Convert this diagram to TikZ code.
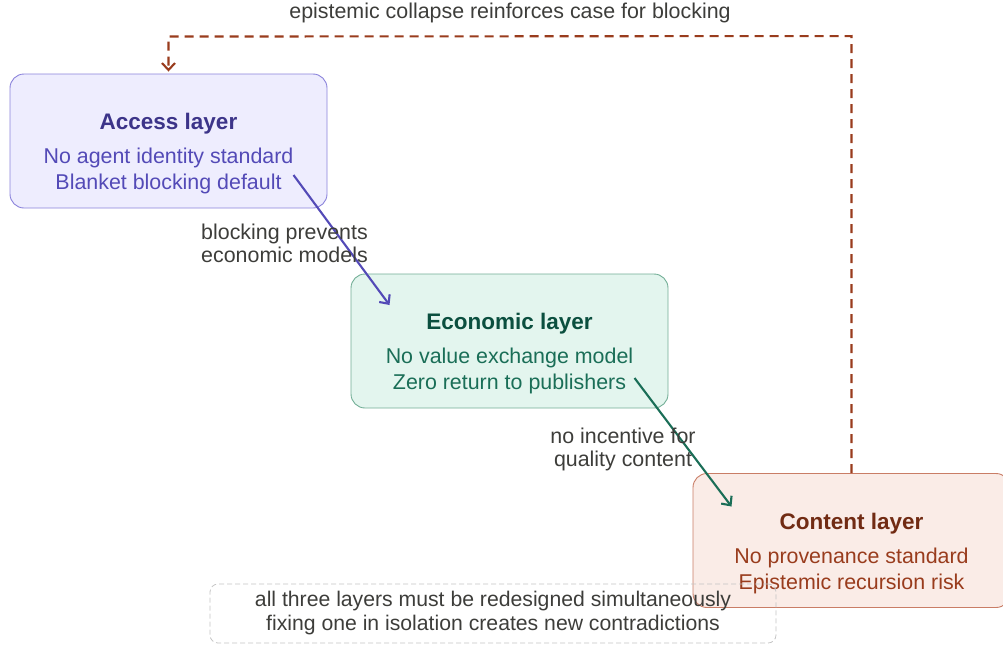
\documentclass[tikz,border=0pt]{standalone}
\usepackage{fontspec}
\setmainfont{Liberation Sans}
\usetikzlibrary{arrows.meta}
\definecolor{accfill}{HTML}{EEEDFE}
\definecolor{accdraw}{HTML}{8A82DB}
\definecolor{acctitle}{HTML}{3C3489}
\definecolor{accbody}{HTML}{534AB7}
\definecolor{ecofill}{HTML}{E3F5EE}
\definecolor{ecodraw}{HTML}{72AE96}
\definecolor{ecotitle}{HTML}{0B4F3F}
\definecolor{ecobody}{HTML}{1A6E57}
\definecolor{confill}{HTML}{FAECE7}
\definecolor{condraw}{HTML}{C97D66}
\definecolor{contitle}{HTML}{712B13}
\definecolor{conbody}{HTML}{993C1D}
\definecolor{labelgray}{HTML}{3D3D3A}
\definecolor{notegray}{HTML}{C4C4C4}
\begin{document}
\begin{tikzpicture}[x=1pt,y=-1pt,
    layer/.style ={rectangle, rounded corners=14pt, draw, line width=0.9pt, minimum width=317pt, minimum height=134pt, inner sep=0pt},
    layertitle/.style ={font=\fontsize{22.5}{26}\selectfont\bfseries, inner sep=0pt},
    layerbody/.style ={font=\fontsize{21.4}{26}\selectfont, align=center, inner sep=0pt},
    cause/.style ={line width=2.1pt, -{Straight Barb[length=7pt,width=13pt]}},
    edgelabel/.style ={font=\fontsize{21.4}{23}\selectfont, align=center, text=labelgray, inner sep=0pt}]
   \useasboundingbox (0,0) rectangle (1003,645);
   % the three layers
   \node[layer, fill=accfill, draw=accdraw] (access) at (168.5,141) {};
   \node[layertitle, text=acctitle] (accesstitle) at ([yshift=17pt]access.center) {Access layer};
   \node[layerbody, text=accbody] (accessbody) at ([yshift=-30pt]access.center) {No agent identity standard\\Blanket blocking default};
   \node[layer, fill=ecofill, draw=ecodraw] (economic) at (509.5,341) {};
   \node[layertitle, text=ecotitle] (economictitle) at ([yshift=17pt]economic.center) {Economic layer};
   \node[layerbody, text=ecobody] (economicbody) at ([yshift=-30pt]economic.center) {No value exchange model\\Zero return to publishers};
   \node[layer, fill=confill, draw=condraw] (content) at (851.5,540.5) {};
   \node[layertitle, text=contitle] (contenttitle) at ([yshift=17pt]content.center) {Content layer};
   \node[layerbody, text=conbody] (contentbody) at ([yshift=-30pt]content.center) {No provenance standard\\Epistemic recursion risk};
   % causal chain
   \draw[cause, draw=accbody] ([shift={(125,34)}]access.center) -- node[edgelabel, xshift=-57pt, yshift=-3pt] {blocking prevents\\economic models} ([shift={(-120,-36)}]economic.center);
   \draw[cause, draw=ecobody] ([shift={(125,37)}]economic.center) -- node[edgelabel, xshift=-60pt, yshift=-7pt] {no incentive for\\quality content} ([shift={(-120,-34)}]content.center);
   % feedback loop
   \path (content.north) ++(0,-437) coordinate (fbright);
   \path (access.north) ++(0,-37) coordinate (fbleft);
   \draw[conbody, line width=2.1pt, dash pattern=on 9pt off 6pt, -{Straight Barb[length=7pt,width=13pt]}, shorten >=2pt]
      (content.north) -- (fbright) -- node[edgelabel, above=12pt] {epistemic collapse reinforces case for blocking} (fbleft) -- (access.north);
   \node[draw=notegray, line width=0.8pt, dash pattern=on 5pt off 3pt, rounded corners=8pt, minimum width=566pt, minimum height=59pt,
      inner sep=0pt, align=center, text=labelgray, font=\fontsize{21.2}{24}\selectfont] (note) at (493,613.5)
      {all three layers must be redesigned simultaneously\\fixing one in isolation creates new contradictions};
 \end{tikzpicture}
\end{document}
